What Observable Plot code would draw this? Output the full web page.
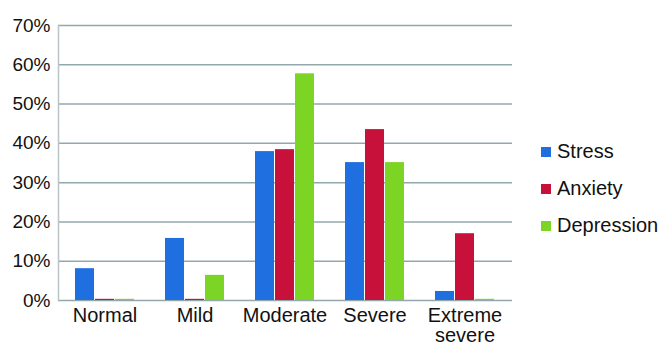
<!DOCTYPE html>
<html><head><meta charset="utf-8">
<script src="https://cdn.jsdelivr.net/npm/d3@7"></script>
<script src="https://cdn.jsdelivr.net/npm/@observablehq/plot@0.6"></script>
<style>
body{margin:0;background:#fff;font-family:"Liberation Sans",Arial,sans-serif}
#wrap{position:relative;width:668px;height:350px}
#legend{position:absolute;left:541px;top:133px;font-size:20px;color:#111}
.item{display:flex;align-items:center;height:37px}
.sw{width:10px;height:10px;margin-right:6px}
</style></head><body><div id="wrap"></div>
<script>
const categories = ["Normal", "Mild", "Moderate", "Severe", "Extreme\nsevere"];
const seriesNames = ["Stress", "Anxiety", "Depression"];
const stress = [8.1, 15.8, 37.9, 35.1, 2.3];
const anxiety = [0.3, 0.3, 38.4, 43.5, 17.0];
const depression = [0.3, 6.4, 57.7, 35.1, 0.3];
const yTicks = [0, 10, 20, 30, 40, 50, 60, 70];
const colors = ["#1f6fe0", "#c8113a", "#7cd424"];

const seriesValues = [stress, anxiety, depression];
const data = seriesNames.flatMap((s, i) =>
  seriesValues[i].map((v, j) => ({category: categories[j], series: s, value: v / 100})));
const insets = [[0, 40], [20, 20], [40, 0]];

const chart = Plot.plot({
  width: 668, height: 350,
  marginLeft: 58, marginRight: 156, marginTop: 25, marginBottom: 50,
  style: {fontFamily: '"Liberation Sans", Arial, sans-serif', background: "transparent", color: "#111"},
  x: {domain: categories, paddingInner: 0.34, paddingOuter: 0.17, axis: null},
  y: {domain: [0, 0.7], axis: null},
  color: {domain: seriesNames, range: colors},
  marks: [
    Plot.ruleY(yTicks.map(t => t / 100), {stroke: "#93a8ac", strokeWidth: 1.5}),
    Plot.frame({anchor: "left", stroke: "#b8c4c8", strokeWidth: 1.5}),
    ...seriesNames.map((s, i) => Plot.barY(data.filter(d => d.series === s), {
      x: "category", y: "value", fill: "series",
      insetLeft: insets[i][0], insetRight: insets[i][1]
    })),
    Plot.axisY({ticks: yTicks.map(t => t / 100), tickFormat: d => Math.round(d * 100) + "%",
      tickSize: 0, tickPadding: 8, fontSize: 19, label: null}),
    Plot.axisX({tickSize: 0, tickPadding: 7, fontSize: 20, lineHeight: 1, label: null})
  ]
});
const wrap = document.getElementById("wrap");
wrap.appendChild(chart);
const legend = document.createElement("div");
legend.id = "legend";
seriesNames.forEach((s, i) => {
  const item = document.createElement("div");
  item.className = "item";
  const sw = document.createElement("span");
  sw.className = "sw";
  sw.style.background = colors[i];
  const t = document.createElement("span");
  t.textContent = s;
  item.appendChild(sw); item.appendChild(t);
  legend.appendChild(item);
});
wrap.appendChild(legend);
</script></body></html>
